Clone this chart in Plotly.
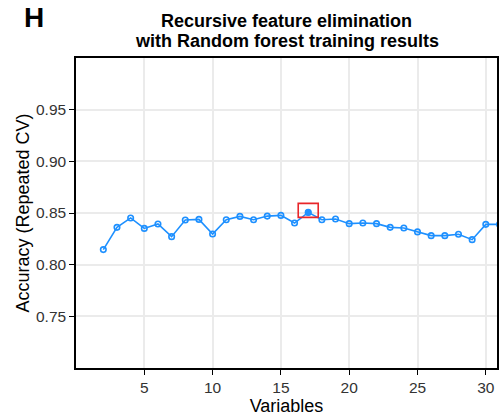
import plotly.graph_objects as go

# Resampled accuracy for each subset size tried by recursive feature elimination
variables = list(range(2, 32))
accuracy = [
    0.8146, 0.8361, 0.8452, 0.8351, 0.8394, 0.8271, 0.8432, 0.8438, 0.8297,
    0.8435, 0.8467, 0.8435, 0.8470, 0.8477, 0.8403, 0.8506, 0.8435, 0.8442,
    0.8397, 0.8403, 0.8397, 0.8361, 0.8355, 0.8317, 0.8281, 0.8281, 0.8294,
    0.8242, 0.8390, 0.8390,
]
x_ticks = [5, 10, 15, 20, 25, 30]
y_ticks = [0.75, 0.80, 0.85, 0.90, 0.95]

blue = "#1E90FF"
best_i = max(range(len(accuracy)), key=lambda i: accuracy[i])
best_x, best_y = variables[best_i], accuracy[best_i]

fig = go.Figure()
fig.add_trace(go.Scatter(
    x=variables, y=accuracy, mode="lines+markers",
    line=dict(color=blue, width=1.6),
    marker=dict(symbol="circle-open", size=5.5, color=blue, line=dict(width=1.6)),
    cliponaxis=True, showlegend=False,
))
fig.add_trace(go.Scatter(
    x=[best_x], y=[best_y], mode="markers",
    marker=dict(symbol="circle", size=6.5, color=blue),
    showlegend=False,
))

# Box highlighting the optimal subset size
fig.add_shape(
    type="rect", xref="x", yref="y",
    xsizemode="pixel", ysizemode="pixel",
    xanchor=best_x, yanchor=best_y,
    x0=-10, x1=10, y0=-5, y1=9,
    line=dict(color="#E8262A", width=1.6), fillcolor="rgba(0,0,0,0)",
)

axis_common = dict(
    showline=True, linecolor="black", linewidth=1.5, mirror=True,
    ticks="outside", ticklen=5, tickwidth=1.2, tickcolor="black",
    showgrid=True, gridcolor="#EBEBEB", gridwidth=1.5, zeroline=False,
    tickfont=dict(family="Liberation Sans, Arial, sans-serif", size=15.5, color="#333333"),
    title_font=dict(family="Liberation Sans, Arial, sans-serif", size=18, color="black"),
)

fig.update_layout(
    width=502, height=416,
    margin=dict(l=76, r=3, t=58, b=48),
    plot_bgcolor="white", paper_bgcolor="white",
    xaxis=dict(range=[0, 30.82], tickvals=x_ticks, title=dict(text="Variables", standoff=4), **axis_common),
    yaxis=dict(range=[0.70, 1.00], tickvals=y_ticks, tickformat=".2f",
               title=dict(text="Accuracy (Repeated CV)", standoff=2), **axis_common),
    font=dict(family="Liberation Sans, Arial, sans-serif"),
)

title_font = dict(family="Liberation Sans, Arial, sans-serif", size=18, color="black")
fig.add_annotation(text="<b>Recursive feature elimination</b>", xref="paper", yref="paper",
                   x=0.5, y=1.118, showarrow=False, font=title_font, xanchor="center", yanchor="middle")
fig.add_annotation(text="<b>with Random forest training results</b>", xref="paper", yref="paper",
                   x=0.5, y=1.056, showarrow=False, font=title_font, xanchor="center", yanchor="middle")
fig.add_annotation(text="<b>H</b>", xref="paper", yref="paper",
                   x=-0.1, y=1.13, showarrow=False, xanchor="center", yanchor="middle",
                   font=dict(family="Liberation Sans, Arial, sans-serif", size=28, color="black"))

fig.write_html("out.html")
